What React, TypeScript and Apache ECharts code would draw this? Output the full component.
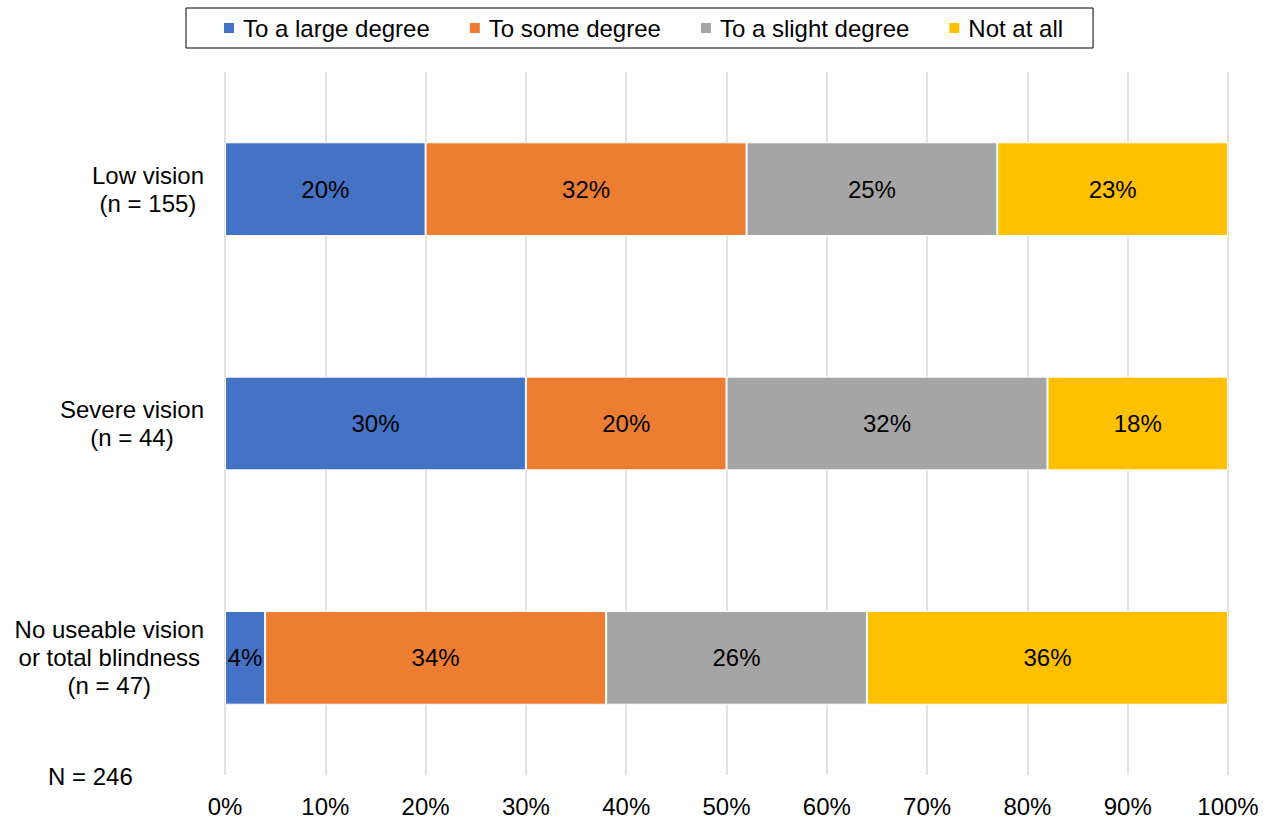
import React, { useEffect, useRef } from "react";
import * as echarts from "echarts";

const categories = [
  "No useable vision\nor total blindness\n(n = 47)",
  "Severe vision\n(n = 44)",
  "Low vision\n(n = 155)",
];
const seriesNames = ["To a large degree", "To some degree", "To a slight degree", "Not at all"];
const largeDegree = [4, 30, 20];
const someDegree = [34, 20, 32];
const slightDegree = [26, 32, 25];
const notAtAll = [36, 18, 23];
const colors = ["#4472C4", "#ED7D31", "#A5A5A5", "#FFC000"];
const xTicks = [0, 10, 20, 30, 40, 50, 60, 70, 80, 90, 100];

const FONT = "'Liberation Sans', Arial, sans-serif";

export default function App() {
  const ref = useRef<HTMLDivElement>(null);

  useEffect(() => {
    if (!ref.current) return;
    const chart = echarts.init(ref.current, null, { renderer: "svg" });
    const values = [largeDegree, someDegree, slightDegree, notAtAll];

    chart.setOption({
      animation: false,
      textStyle: { fontFamily: FONT },
      legend: {
        left: 186,
        top: 8,
        padding: [8, 30, 8, 36],
        borderColor: "#000",
        borderWidth: 1,
        itemWidth: 12,
        itemHeight: 12,
        itemGap: 38,
        icon: "rect",
        textStyle: { fontSize: 24, color: "#000", fontFamily: FONT, padding: [0, 0, 0, 3] },
        data: seriesNames,
      },
      grid: { left: 225, right: 48, top: 72, bottom: 42, containLabel: false },
      xAxis: {
        type: "value",
        min: xTicks[0],
        max: xTicks[xTicks.length - 1],
        interval: 10,
        axisLine: { show: false },
        axisTick: { show: false },
        splitLine: { lineStyle: { color: "#D9D9D9", width: 1.5 } },
        axisLabel: {
          formatter: (v: number) => `${v}%`,
          fontSize: 24,
          color: "#000",
          fontFamily: FONT,
          margin: 19,
        },
      },
      yAxis: {
        type: "category",
        data: categories,
        axisLine: { show: false },
        axisTick: { show: false },
        axisLabel: {
          align: "right",
          margin: 21,
          formatter: (v: string) =>
            v
              .split("\n")
              .map((line) => `{c|${line}}`)
              .join("\n"),
          rich: {
            c: { align: "center", fontSize: 24, lineHeight: 28, color: "#000", fontFamily: FONT },
          },
        },
      },
      series: seriesNames.map((name, i) => ({
        name,
        type: "bar",
        stack: "total",
        barCategoryGap: "60%",
        data: values[i],
        itemStyle: { color: colors[i], borderColor: "#fff", borderWidth: 1 },
        label: {
          show: true,
          position: "inside",
          formatter: (p: any) => `${p.value}%`,
          fontSize: 24,
          color: "#000",
          fontFamily: FONT,
        },
      })),
      graphic: [
        {
          type: "text",
          left: 48,
          top: 764,
          style: { text: "N = 246", fontSize: 24, fill: "#000", fontFamily: FONT },
        },
      ],
    });

    return () => chart.dispose();
  }, []);

  return <div ref={ref} style={{ width: 1276, height: 818, position: "absolute", left: 0, top: 0 }} />;
}
